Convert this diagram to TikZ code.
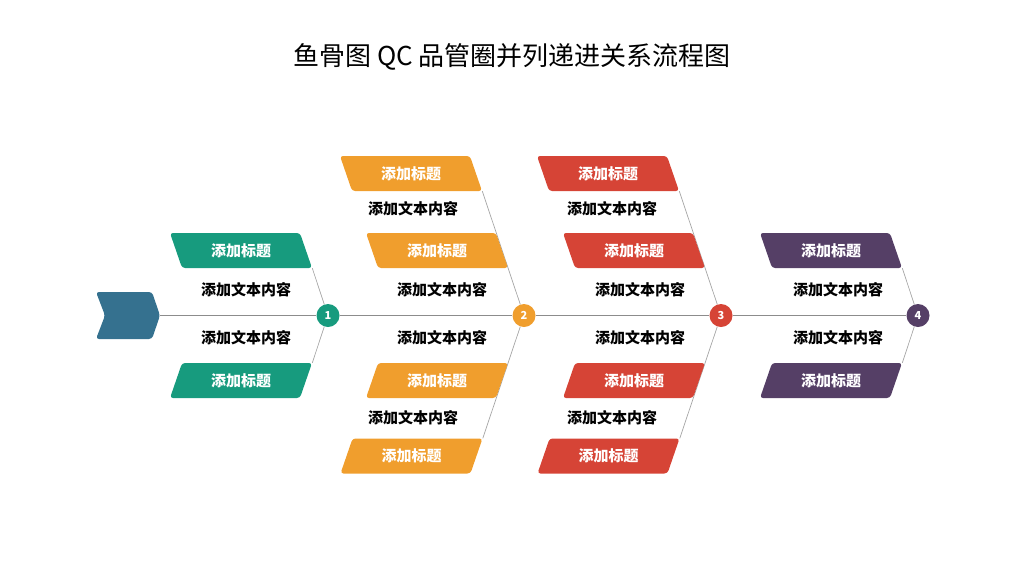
\documentclass[tikz,border=0pt]{standalone}
\usepackage{fontspec}
\setmainfont{Noto Sans CJK SC}
\usetikzlibrary{shapes.geometric, positioning, calc, backgrounds}
\definecolor{myteal}{RGB}{23,155,126}
\definecolor{myorange}{RGB}{240,158,45}
\definecolor{myred}{RGB}{214,68,54}
\definecolor{mypurple}{RGB}{85,63,102}
\definecolor{myblue}{RGB}{53,113,143}
\definecolor{spinegray}{RGB}{140,140,140}
\definecolor{bonegray}{RGB}{165,165,165}
\tikzset{
  tag/.style={trapezium, trapezium stretches body,
    minimum width=142pt, text height=12.5pt, text depth=1.5pt,
    inner xsep=2pt, inner ysep=10.5pt,
    rounded corners=3pt, text=white,
    font=\fontsize{15}{17}\selectfont\bfseries},
  uptag/.style={tag, trapezium left angle=109, trapezium right angle=71},
  downtag/.style={tag, trapezium left angle=71, trapezium right angle=109},
  numnode/.style={circle, minimum size=23pt, inner sep=0pt,
    text=white, font=\fontsize{11}{12}\selectfont\bfseries},
  body/.style={font=\fontsize{15}{17}\selectfont\bfseries, text=black},
  spine/.style={line width=1.4pt, color=spinegray},
  bone/.style={line width=0.7pt, color=bonegray}
}

\begin{document}
\begin{tikzpicture}[x=1pt, y=-1pt]
  \useasboundingbox (0,0) rectangle (1024,576);

  \node[font=\fontsize{26}{31}\selectfont] (title) at (512,57) {鱼骨图 QC 品管圈并列递进关系流程图};

  % head of the fish
  \fill[myblue, rounded corners=3pt] (96,292) -- (152,292) -- (160,315.5) -- (152,339) -- (96,339) -- (105,315.5) -- cycle;
  \coordinate (head) at (160,315.5);

  % joints on the spine
  \node[numnode, fill=myteal] (c1) at (328,315.5) {1};
  \node[numnode, fill=myorange] (c2) at (524,315.5) {2};
  \node[numnode, fill=myred] (c3) at (721,315.5) {3};
  \node[numnode, fill=mypurple] (c4) at (918,315.5) {4};

  % group 1
  \node[uptag, fill=myteal] (t1u) at ($(c1)+(-87,-65)$) {添加标题};
  \node[downtag, fill=myteal] (t1d) at ($(c1)+(-87,65)$) {添加标题};
  \node[body] (b1u) at ($(c1)+(-82,-25.5)$) {添加文本内容};
  \node[body] (b1d) at ($(c1)+(-82,22.5)$) {添加文本内容};

  % group 2
  \node[uptag, fill=myorange] (t2a) at ($(c2)+(-113,-142)$) {添加标题};
  \node[uptag, fill=myorange] (t2b) at ($(c2)+(-87,-65)$) {添加标题};
  \node[downtag, fill=myorange] (t2c) at ($(c2)+(-87,65)$) {添加标题};
  \node[downtag, fill=myorange] (t2d) at ($(c2)+(-112.5,140.5)$) {添加标题};
  \node[body] (b2a) at ($(c2)+(-111,-106.5)$) {添加文本内容};
  \node[body] (b2b) at ($(c2)+(-82,-25.5)$) {添加文本内容};
  \node[body] (b2c) at ($(c2)+(-82,22.5)$) {添加文本内容};
  \node[body] (b2d) at ($(c2)+(-111,102.5)$) {添加文本内容};

  % group 3
  \node[uptag, fill=myred] (t3a) at ($(c3)+(-113,-142)$) {添加标题};
  \node[uptag, fill=myred] (t3b) at ($(c3)+(-87,-65)$) {添加标题};
  \node[downtag, fill=myred] (t3c) at ($(c3)+(-87,65)$) {添加标题};
  \node[downtag, fill=myred] (t3d) at ($(c3)+(-112.5,140.5)$) {添加标题};
  \node[body] (b3a) at ($(c3)+(-109,-106.5)$) {添加文本内容};
  \node[body] (b3b) at ($(c3)+(-81,-25.5)$) {添加文本内容};
  \node[body] (b3c) at ($(c3)+(-81,22.5)$) {添加文本内容};
  \node[body] (b3d) at ($(c3)+(-109,102.5)$) {添加文本内容};

  % group 4
  \node[uptag, fill=mypurple] (t4u) at ($(c4)+(-87,-65)$) {添加标题};
  \node[downtag, fill=mypurple] (t4d) at ($(c4)+(-87,65)$) {添加标题};
  \node[body] (b4u) at ($(c4)+(-80,-25.5)$) {添加文本内容};
  \node[body] (b4d) at ($(c4)+(-80,22.5)$) {添加文本内容};

  \begin{scope}[on background layer]
    \draw[spine] (head) -- (c1) -- (c2) -- (c3) -- (c4);
    \draw[bone] (c1) -- (t1u.bottom right corner);
    \draw[bone] (c1) -- (t1d.top right corner);
    \draw[bone] (c2) -- (t2a.bottom right corner);
    \draw[bone] (c2) -- (t2d.top right corner);
    \draw[bone] (c3) -- (t3a.bottom right corner);
    \draw[bone] (c3) -- (t3d.top right corner);
    \draw[bone] (c4) -- (t4u.bottom right corner);
    \draw[bone] (c4) -- (t4d.top right corner);
  \end{scope}
\end{tikzpicture}
\end{document}
